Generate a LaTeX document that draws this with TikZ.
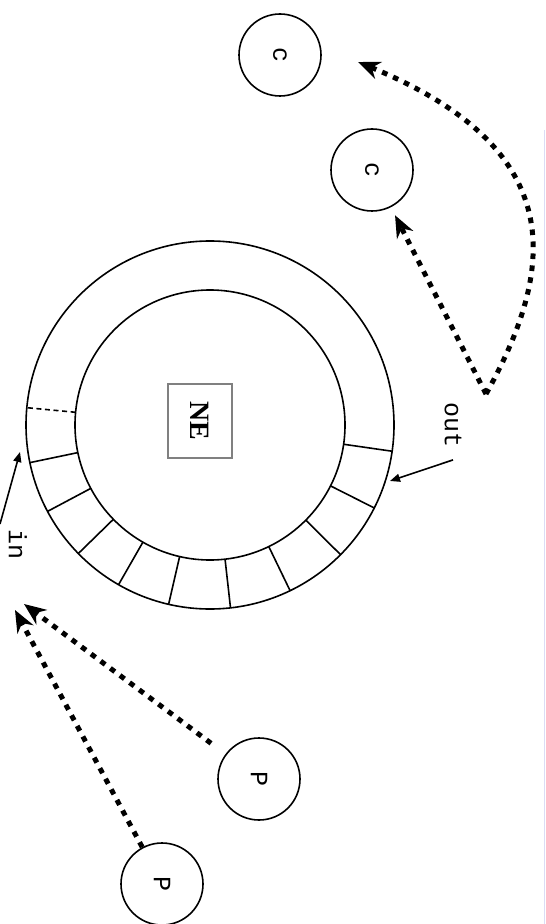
\documentclass[tikz,border=0pt]{standalone}
\usepackage{fontspec}
\setmainfont{Liberation Serif}
\setmonofont{Liberation Mono}
\usetikzlibrary{arrows.meta}
\definecolor{edgeblue}{RGB}{220,220,245}

\tikzset{
  flow/.style={line width=2.5pt, dash pattern=on 2.8pt off 3.2pt, -{Stealth[length=11pt,width=9pt]}},
  station/.style={draw, circle, line width=0.8pt, minimum size=41pt, inner sep=0pt,
    rotate=-90, font=\fontsize{12.5}{14}\ttfamily},
  tag/.style={font=\fontsize{12.5}{14}\ttfamily, rotate=-90, inner sep=2pt},
  feed/.style={line width=0.8pt, -{Triangle[length=5pt,width=4pt]}}
}

\begin{document}
\begin{tikzpicture}[x=0.5pt, y=-0.5pt]
  \useasboundingbox (0,0) rectangle (545,924);
  \draw[line width=0.5pt, edgeblue] (544,130) -- (544,924);

  \coordinate (ring) at (210,425);
  \draw[line width=0.8pt] (ring) circle (184);
  \draw[line width=0.8pt] (ring) circle (135);
  \draw[line width=0.8pt, dash pattern=on 2.5pt off 1.8pt] ([shift={(185.4:135)}]ring) -- ([shift={(185.4:184)}]ring);
  \foreach \a in {168.2,152,135.7,119.8,103,83.6,64.2,44.8,26.8,8.2}
    \draw[line width=0.8pt] ([shift={(\a:135)}]ring) -- ([shift={(\a:184)}]ring);

  \node[draw=gray, line width=1pt, rotate=-90, minimum width=37pt, minimum height=32pt,
    font=\fontsize{14}{16}\selectfont\bfseries] (ne) at (200,421) {NE};

  \node[station] (c1) at (280,55) {c};
  \node[station] (c2) at (372,170) {c};
  \node[station] (p1) at (259,779) {P};
  \node[station] (p2) at (162,884) {P};

  \node[tag] (outlbl) at (453,425) {out};
  \node[tag] (inlbl) at (18,544) {in};

  \coordinate (fork) at (486,394);
  \coordinate (c1in) at (358,62);
  \coordinate (inA) at (15,610);
  \coordinate (inB) at (24,604);
  \coordinate (outpt) at (390,481);
  \coordinate (inpt) at (20,452);
  \coordinate (inedge) at (0,524);

  \draw[flow, shorten >=4.5pt] (fork) -- (c2);
  \draw[flow] (fork) .. controls (555,270) and (572,150) .. (c1in);
  \draw[flow, shorten <=9pt] (p1) -- (inB);
  \draw[flow] (p2) -- (inA);
  \draw[feed] ([yshift=-4pt]outlbl.east) -- (outpt);
  \draw[feed] (inedge) -- (inpt);
\end{tikzpicture}
\end{document}
